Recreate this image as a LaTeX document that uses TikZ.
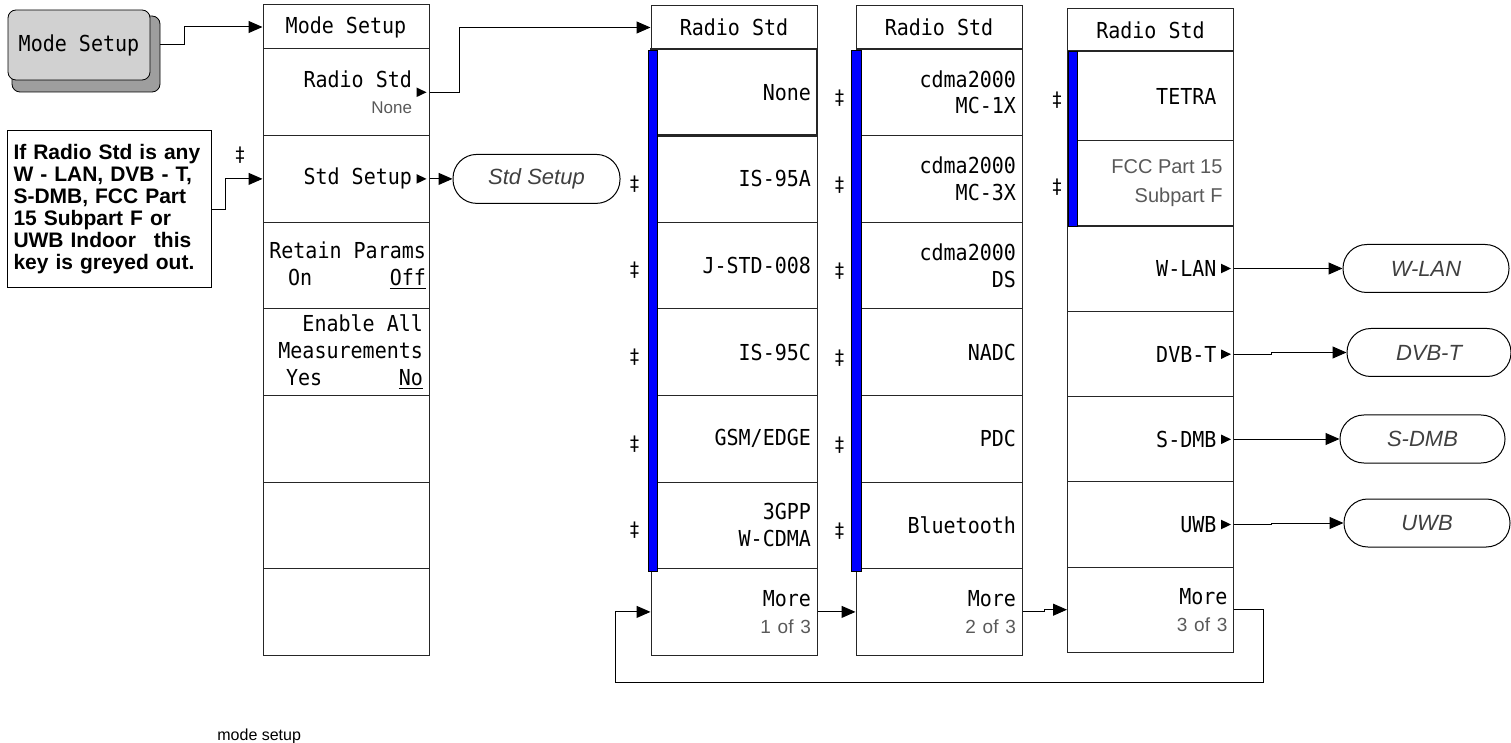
\documentclass[tikz,border=0pt]{standalone}
\usepackage{fontspec}
\usepackage{tikz}
\usetikzlibrary{arrows.meta}
\newfontfamily\keyfont[FakeStretch=0.91]{DejaVu Sans Mono}
\newfontfamily\notefont{Liberation Sans}
\definecolor{keyblue}{RGB}{0,0,255}
\definecolor{dimtext}{gray}{0.35}
\definecolor{btnlight}{gray}{0.82}
\definecolor{btndark}{gray}{0.62}
\newcommand{\bluebar}[4]{\filldraw[fill=keyblue,draw=black,line width=0.4pt] ( #1 , #2 ) rectangle ( #3 , #4 );}
\newcommand{\subarrow}[1]{\fill ([xshift=-1.5pt]#1.east) -- ++(-5pt,2.4pt) -- ++(0,-4.8pt) -- cycle;}
\newcommand{\dimline}[2]{{\notefont\color{dimtext}\fontsize{#1}{#1}\selectfont\spaceskip=0.36em\relax #2}}

\begin{document}
\begin{tikzpicture}[x=0.5pt,y=-0.5pt,
    softkey/.style={draw=black!85, line width=0.5pt, minimum width=83pt, minimum height=43.3pt, inner xsep=3pt, inner ysep=1pt, text width=77pt, align=right, font=\keyfont\fontsize{11}{13.4}\selectfont, execute at begin node={\spaceskip=6.03pt\relax}},
    subkey/.style={softkey, text width=66pt},
    keyhead/.style={softkey, minimum height=22pt, align=center},
    oval/.style={draw, line width=0.5pt, rounded corners=11.9pt, minimum width=83pt, minimum height=24pt, text=black!75, font=\notefont\itshape\fontsize{11}{13}\selectfont},
    dagger/.style={font=\keyfont\fontsize{10}{12}\selectfont, inner sep=0pt},
    notebox/.style={draw, line width=0.5pt, minimum width=101.5pt, minimum height=78.5pt, text width=96pt, inner xsep=3pt, align=left, font=\notefont\bfseries\fontsize{10.5}{11}\selectfont},
    conn/.style={-{Triangle[length=7pt,width=6pt]}, line width=0.5pt}]
    \useasboundingbox (0,0) rectangle (1511,743);

    % hard key and note
    \node[draw, fill=btndark, rounded corners=4pt, minimum width=74pt, minimum height=38pt] (btnback) at (86,54) {};
    \node[draw, fill=btnlight, rounded corners=4pt, minimum width=71pt, minimum height=35pt, font=\keyfont\fontsize{11}{13}\selectfont] (btn) at (79,45) {Mode Setup};
    \node[notebox] (note) at (109.5,209.5) {If Radio Std is any\\W - LAN, DVB - T,\\S-DMB, FCC Part\\15 Subpart F or\\UWB Indoor\hspace{9pt}this\\key is greyed out.};
    \node[dagger] (dm2) at (240,155) {‡};

    % Mode Setup menu
    \node[keyhead] (m0) at (346,27) {Mode Setup};
    \node[subkey] (m1) at (346,92.3) {Radio Std\\\dimline{8.5}{None}};
    \node[subkey] (m2) at (346,178.9) {Std Setup};
    \node[softkey, inner xsep=1.5pt, text width=80pt] (m3) at (346,265.5) {Retain Params\\\hspace*{11pt}On\hfill\underline{Off}};
    \node[softkey] (m4) at (346,352.1) {Enable All\\Measurements\\\hspace*{8.5pt}Yes\hfill\underline{No}};
    \node[softkey] (m5) at (346,438.7) {};
    \node[softkey] (m6) at (346,525.3) {};
    \node[softkey] (m7) at (346,611.9) {};
    \subarrow{m1} \subarrow{m2}
    \node[oval, minimum width=83.5pt, minimum height=24.5pt] (stdsetup) at (536.5,178.9) {Std Setup};

    % Radio Std, page 1
    \node[keyhead] (r0) at (734,27.5) {Radio Std};
    \node[softkey, line width=1.2pt] (r1) at (734,92.3) {None};
    \node[softkey] (r2) at (734,178.9) {IS-95A};
    \node[softkey] (r3) at (734,265.5) {J-STD-008};
    \node[softkey] (r4) at (734,352.1) {IS-95C};
    \node[softkey] (r5) at (734,438.7) {GSM/EDGE};
    \node[softkey] (r6) at (734,525.3) {3GPP\\W-CDMA};
    \node[softkey] (r7) at (734,611.9) {More\\\dimline{9.5}{1 of 3}};
    \bluebar{648}{50}{657}{571}
    \node[dagger, xshift=-8pt, yshift=-2.5pt] (dr2) at (r2.west) {‡};
    \node[dagger, xshift=-8pt, yshift=-2.5pt] (dr3) at (r3.west) {‡};
    \node[dagger, xshift=-8pt, yshift=-2.5pt] (dr4) at (r4.west) {‡};
    \node[dagger, xshift=-8pt, yshift=-2.5pt] (dr5) at (r5.west) {‡};
    \node[dagger, xshift=-8pt, yshift=-2.5pt] (dr6) at (r6.west) {‡};

    % Radio Std, page 2
    \node[keyhead] (s0) at (939,27.5) {Radio Std};
    \node[softkey] (s1) at (939,92.3) {cdma2000\\MC-1X};
    \node[softkey] (s2) at (939,178.9) {cdma2000\\MC-3X};
    \node[softkey] (s3) at (939,265.5) {cdma2000\\DS};
    \node[softkey] (s4) at (939,352.1) {NADC};
    \node[softkey] (s5) at (939,438.7) {PDC};
    \node[softkey] (s6) at (939,525.3) {Bluetooth};
    \node[softkey] (s7) at (939,611.9) {More\\\dimline{9.5}{2 of 3}};
    \bluebar{851}{50}{861}{571}
    \node[dagger, xshift=-8pt, yshift=-3pt] (ds1) at (s1.west) {‡};
    \node[dagger, xshift=-8pt, yshift=-3pt] (ds2) at (s2.west) {‡};
    \node[dagger, xshift=-8pt, yshift=-3pt] (ds3) at (s3.west) {‡};
    \node[dagger, xshift=-8pt, yshift=-3pt] (ds4) at (s4.west) {‡};
    \node[dagger, xshift=-8pt, yshift=-3pt] (ds5) at (s5.west) {‡};
    \node[dagger, xshift=-8pt, yshift=-3pt] (ds6) at (s6.west) {‡};

    % Radio Std, page 3
    \node[keyhead, minimum height=21pt] (t0) at (1150.5,30) {Radio Std};
    \node[subkey, minimum height=44.7pt] (t1) at (1150.5,96.3) {TETRA};
    \node[softkey, minimum height=42.6pt, text width=72pt, text=dimtext, font=\notefont\fontsize{10}{14.5}\selectfont, execute at begin node={\spaceskip=\fontdimen2\font\relax}] (t2) at (1150.5,183.5) {FCC Part 15\\Subpart F};
    \node[subkey, minimum height=42.6pt] (t3) at (1150.5,268.5) {W-LAN};
    \node[subkey, minimum height=42.6pt] (t4) at (1150.5,354.2) {DVB-T};
    \node[subkey, minimum height=42.6pt] (t5) at (1150.5,439.3) {S-DMB};
    \node[subkey, minimum height=42.6pt] (t6) at (1150.5,524.5) {UWB};
    \node[softkey, minimum height=42.6pt] (t7) at (1150.5,609.7) {More\\\dimline{9.5}{3 of 3}};
    \subarrow{t3} \subarrow{t4} \subarrow{t5} \subarrow{t6}
    \bluebar{1068}{51}{1077}{226}
    \node[dagger, xshift=-5pt, yshift=-2pt] (dt1) at (t1.west) {‡};
    \node[dagger, xshift=-5pt, yshift=-2pt] (dt2) at (t2.west) {‡};

    \node[oval] (wlan) at (1426,268.5) {W-LAN};
    \node[oval, minimum width=82pt] (dvbt) at (1429,352.5) {DVB-T};
    \node[oval, minimum width=82.5pt] (sdmb) at (1422.5,439) {S-DMB};
    \node[oval] (uwb) at (1427,523) {UWB};

    % connectors
    \draw[conn] (btn.east -| btnback.east) -- ++(24,0) |- (m0.west);
    \draw[conn] (note.east) -- ++(13,0) |- (m2.west);
    \draw[conn] (m1.east) -- ++(30,0) |- (r0.west);
    \draw[conn] (m2.east) -- (stdsetup.west);
    \draw[conn] (r7.east) -- (s7.west);
    \draw[conn] (s7.east) -- ++(22,0) |- (t7.west);
    \coordinate (loopback) at (615,682);
    \draw[conn] (t7.east) -- ++(29,0) |- (loopback) |- (r7.west);
    \draw[conn] (t3.east) -- (wlan.west);
    \draw[conn] (t4.east) -- ++(37,0) |- (dvbt.west);
    \draw[conn] (t5.east) -- ++(34,0) |- (sdmb.west);
    \draw[conn] (t6.east) -- ++(37,0) |- (uwb.west);

    \node[anchor=base west, inner sep=0pt, font=\notefont\fontsize{8}{9}\selectfont] (caption) at (217,740) {mode setup};
\end{tikzpicture}
\end{document}
